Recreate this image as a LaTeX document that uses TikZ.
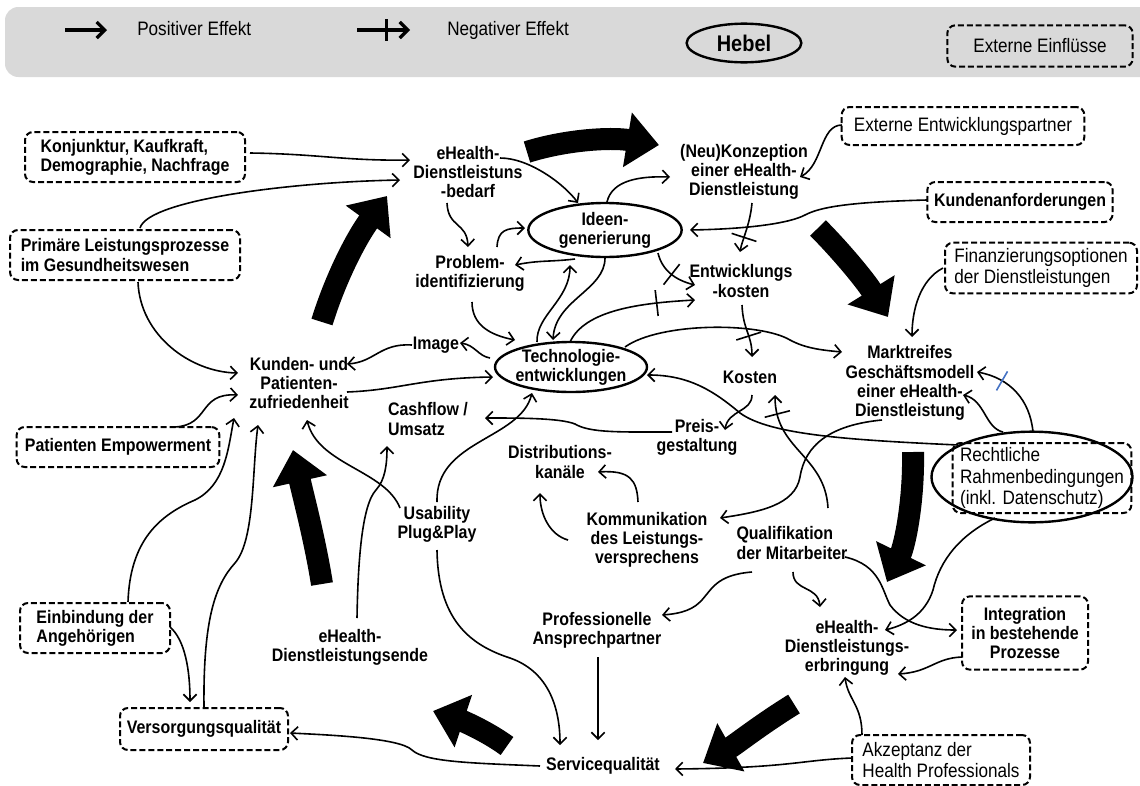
\documentclass[tikz,border=0pt]{standalone}
\usepackage{fontspec}
\setmainfont{Liberation Sans}[FakeStretch=0.88]
\usetikzlibrary{arrows.meta,shapes.geometric,calc,decorations.markings}
\definecolor{legendgray}{HTML}{D9D9D9}
\definecolor{negblue}{HTML}{4472C4}
\newcommand{\lblfont}{\fontsize{13.6}{14.4}\selectfont\bfseries}
\newcommand{\extfont}{\fontsize{14.6}{16}\selectfont}
\newcommand{\legfont}{\fontsize{14.6}{16}\selectfont}
\tikzset{
  lbl/.style={font=\lblfont, align=center, inner sep=1pt},
  extbox/.style={draw, line width=1.5pt, dash pattern=on 4.5pt off 2.2pt, rounded corners=6pt, align=left, inner sep=2pt},
  extb/.style={extbox, font=\lblfont},
  extr/.style={extbox, font=\extfont},
  lever/.style={draw, ellipse, line width=1.8pt, font=\lblfont, align=center, inner xsep=-2pt, inner ysep=-3pt},
  con/.style={line width=1.2pt, -{Straight Barb[length=5pt,width=10pt,line width=1.2pt]}},
  neg/.style={postaction={decorate}, decoration={markings, mark=at position #1 with {\draw[-,line width=1.2pt] (0,-13) -- (0,13);}}},
  negb/.style={postaction={decorate}, decoration={markings, mark=at position #1 with {\draw[-,line width=1.2pt,negblue] (0,-11) -- (0,11);}}},
  big/.style={line width=16.5pt, -{Triangle[length=24pt,width=40pt]}},
}
\begin{document}
\begin{tikzpicture}[x=0.75pt,y=-0.75pt]
\useasboundingbox (0,0) rectangle (1140,786);

% ---------- legend ----------
\fill[legendgray, rounded corners=10pt] (5,7) rectangle (1170,77);
\coordinate (lpa) at (65,30);
\coordinate (lpb) at (107,30);
\coordinate (lna) at (357,30);
\coordinate (lnb) at (410,30);
\draw[line width=2.4pt, -{Straight Barb[length=6pt,width=12pt,line width=2.4pt]}] (lpa) -- (lpb);
\draw[line width=2.4pt, -{Straight Barb[length=6pt,width=12pt,line width=2.4pt]}, postaction={decorate}, decoration={markings, mark=at position 0.55 with {\draw[-,line width=2.4pt] (0,-11) -- (0,11);}}] (lna) -- (lnb);
\node[font=\legfont, anchor=base west, inner sep=0pt] (legpos) at (137,35) {Positiver Effekt};
\node[font=\legfont, anchor=base west, inner sep=0pt] (legneg) at (447,35) {Negativer Effekt};
\node[lever, font=\fontsize{17}{18}\selectfont\bfseries, minimum width=86pt, minimum height=29pt] (hebel) at (744,43) {Hebel};
\node[extr, align=center, minimum width=139pt, minimum height=31pt] (extleg) at (1040,46) {Externe Einflüsse};

% ---------- external influence boxes ----------
\node[extb, minimum width=165pt, minimum height=37.5pt] (konj) at (135,157) {Konjunktur, Kaufkraft,\\Demographie, Nachfrage};
\node[extb, minimum width=172.5pt, minimum height=37.5pt] (prim) at (125,255) {Primäre Leistungsprozesse\\im Gesundheitswesen};
\node[extr, minimum width=182pt, minimum height=28.5pt] (extern) at (963,126) {Externe Entwicklungspartner};
\node[extb, minimum width=139pt, minimum height=30pt] (kanf) at (1020,202) {Kundenanforderungen};
\node[extr, minimum width=144pt, minimum height=38pt] (finanz) at (1041,268) {Finanzierungsoptionen\\der Dienstleistungen};
\node[extr, minimum width=134pt, minimum height=52.5pt] (rechtbox) at (1042,478) {Rechtliche\\Rahmenbedingungen\\(inkl. Datenschutz)};
\node[draw, ellipse, line width=1.8pt, minimum width=150.75pt, minimum height=68pt, inner sep=0pt] (recht) at (1032,477) {};
\node[extb, minimum width=152pt, minimum height=30pt] (empow) at (118,447) {Patienten Empowerment};
\node[extb, minimum width=112.5pt, minimum height=37.5pt] (einb) at (95,628) {Einbindung der\\Angehörigen};
\node[extb, minimum width=126pt, minimum height=31.5pt] (versorg) at (204,729) {Versorgungsqualität};
\node[extb, align=center, minimum width=94.5pt, minimum height=55pt] (integ) at (1025,633) {Integration\\in bestehende\\Prozesse};
\node[extr, minimum width=133.5pt, minimum height=37.5pt] (akzep) at (941,760) {Akzeptanz der\\Health Professionals};

% ---------- levers ----------
\node[lever, minimum width=115pt, minimum height=40.5pt] (ideen) at (605,230) {Ideen-\\generierung};
\node[lever, minimum width=114pt, minimum height=37.5pt] (tech) at (571,367) {Technologie-\\entwicklungen};

% ---------- inner labels ----------
\node[lbl] (bedarf) at (468,172) {eHealth-\\Dienstleistuns\\-bedarf};
\node[lbl] (neu) at (744,172) {(Neu)Konzeption\\einer eHealth-\\Dienstleistung};
\node[lbl] (problem) at (470,273) {Problem-\\identifizierung};
\node[lbl] (ekosten) at (741,281) {Entwicklungs\\-kosten};
\node[lbl] (kosten) at (750,377) {Kosten};
\node[lbl] (image) at (436,345) {Image};
\node[lbl] (kunden) at (299,383) {Kunden- und\\Patienten-\\zufriedenheit};
\node[lbl, align=left] (cash) at (428,419) {Cashflow /\\Umsatz};
\node[lbl] (preis) at (697,437) {Preis-\\gestaltung};
\node[lbl] (distr) at (560,462) {Distributions-\\kanäle};
\node[lbl] (komm) at (647,540) {Kommunikation\\des Leistungs-\\versprechens};
\node[lbl, align=left] (quali) at (792,543) {Qualifikation\\der Mitarbeiter};
\node[lbl] (markt) at (910,383) {Marktreifes\\Geschäftsmodell\\einer eHealth-\\Dienstleistung};
\node[lbl] (usab) at (437,524) {Usability\\Plug\&Play};
\node[lbl] (ende) at (350,647) {eHealth-\\Dienstleistungsende};
\node[lbl] (prof) at (597,630) {Professionelle\\Ansprechpartner};
\node[lbl] (service) at (603,766) {Servicequalität};
\node[lbl] (erbr) at (847,648) {eHealth-\\Dienstleistungs-\\erbringung};

% ---------- big cycle arrows ----------
\draw[big] (322,322) .. controls (335,280) and (355,240) .. (387,196);
\draw[big] (527,152) .. controls (565,140) and (610,137) .. (659,145);
\draw[big] (818,228) .. controls (840,250) and (865,280) .. (888,317);
\draw[big] (913,452) .. controls (914,500) and (905,545) .. (887,582);
\draw[big] (794,704) .. controls (760,725) and (735,745) .. (703,763);
\draw[big] (507,746) .. controls (485,730) and (460,720) .. (433,711);
\draw[big] (322,584) .. controls (315,540) and (303,495) .. (293,450);

% ---------- connectors ----------
\draw[con] ($(konj)+(115,-4)$) .. controls (320,154) and (345,161) .. ($(bedarf)+(-58,-12)$);
\draw[con] ($(prim)+(15,-27)$) .. controls (148,200) and (290,182) .. ($(bedarf)+(-68,8)$);
\draw[con] ($(prim)+(13,27)$) .. controls (140,335) and (190,372) .. ($(kunden)+(-61,-10)$);
\draw[con] ($(empow)+(57,-20)$) .. controls (210,425) and (198,393) .. ($(kunden)+(-61,12)$);
\draw[con] ($(einb)+(33,-26)$) .. controls (130,540) and (160,515) .. (195,500) .. controls (225,485) and (228,450) .. ($(kunden)+(-65,35)$);
\draw[con] ($(versorg)+(0,-21)$) .. controls (203,620) and (215,585) .. (235,563) .. controls (255,540) and (252,470) .. ($(kunden)+(-41,42)$);
\draw[con] ($(einb)+(75,-1)$) .. controls (185,640) and (190,670) .. ($(versorg)+(-14,-27)$);
\draw[con] ($(service)+(-63,0)$) .. controls (470,763) and (425,762) .. (412,750) .. controls (400,738) and (330,735) .. ($(versorg)+(86,4)$);
\draw[con] ($(usab)+(-37,-16)$) .. controls (385,470) and (318,465) .. ($(kunden)+(8,37)$);
\draw[con] ($(ende)+(7,-29)$) .. controls (358,560) and (362,505) .. (376,490) .. controls (385,480) and (387,465) .. ($(cash)+(-41,27)$);
\draw[con] ($(usab)+(0,-22)$) .. controls (435,440) and (520,440) .. ($(tech)+(-39,26)$);
\draw[con] ($(usab)+(0,26)$) .. controls (438,620) and (470,645) .. (510,658) .. controls (550,672) and (560,710) .. ($(service)+(-43,-21)$);
\draw[con] ($(prof)+(1,27)$) -- ($(service)+(-5,-26)$);
\draw[con] ($(quali)+(-40,29)$) .. controls (715,575) and (712,590) .. (700,602) .. controls (690,612) and (675,614) .. ($(prof)+(65,-15)$);
\draw[con] ($(akzep)+(-89,-2)$) .. controls (800,760) and (790,768) .. ($(service)+(72,3)$);
\draw[con] ($(akzep)+(-79,-25)$) .. controls (862,705) and (848,700) .. ($(erbr)+(-2,29)$);
\draw[con] ($(integ)+(-63,24)$) .. controls (935,658) and (930,672) .. ($(erbr)+(51,26)$);
\draw[con] ($(quali)+(53,14)$) .. controls (880,565) and (882,590) .. (890,605) .. controls (905,625) and (930,630) .. ($(integ)+(-68,-3)$);
\draw[con] ($(quali)+(1,29)$) .. controls (793,592) and (818,585) .. ($(erbr)+(-27,-41)$);
\draw[con] ($(recht)+(-37,41)$) .. controls (960,535) and (940,560) .. (933,590) .. controls (925,615) and (905,625) .. ($(erbr)+(38,-18)$);
\draw[con] ($(markt)+(-28,37)$) .. controls (830,425) and (805,445) .. (800,477) .. controls (795,505) and (760,512) .. ($(komm)+(73,-22)$);
\draw[con, neg=0.85] ($(quali)+(36,-35)$) .. controls (825,455) and (775,450) .. ($(kosten)+(25,18)$);
\draw[con] ($(kosten)+(2,18)$) .. controls (752,412) and (728,410) .. ($(preis)+(28,-7)$);
\draw[con] ($(preis)+(-25,-5)$) .. controls (620,432) and (590,433) .. (575,424) .. controls (560,418) and (520,418) .. ($(cash)+(57,-1)$);
\draw[con] ($(komm)+(-9,-38)$) .. controls (637,480) and (630,470) .. ($(distr)+(38,10)$);
\draw[con] ($(komm)+(-79,0)$) .. controls (550,535) and (540,515) .. ($(distr)+(-20,31)$);
\draw[con] ($(recht)+(-74,-32)$) .. controls (850,440) and (770,435) .. (740,413) .. controls (715,392) and (690,375) .. ($(tech)+(76,8)$);
\draw[con, negb=0.7] ($(recht)+(1,-45)$) .. controls (1030,400) and (1010,378) .. ($(markt)+(67,-11)$);
\draw[con] ($(recht)+(-29,-45)$) .. controls (985,428) and (985,400) .. ($(markt)+(53,12)$);
\draw[con] ($(tech)+(54,-20)$) .. controls (660,322) and (760,322) .. (790,340) .. controls (805,348) and (820,350) .. ($(markt)+(-68,-31)$);
\draw[con] ($(finanz)+(-98,0)$) .. controls (920,280) and (912,310) .. ($(markt)+(2,-46)$);
\draw[con, neg=0.6] ($(ekosten)+(1,24)$) .. controls (743,330) and (752,335) .. ($(kosten)+(2,-20)$);
\draw[con] ($(kanf)+(-93,-2)$) .. controls (850,202) and (820,207) .. (805,215) .. controls (790,223) and (750,229) .. ($(ideen)+(85,0)$);
\draw[con] ($(extern)+(-121,-1)$) .. controls (820,125) and (823,165) .. ($(neu)+(56,5)$);
\draw[con] ($(ideen)+(2,-28)$) .. controls (612,180) and (640,176) .. ($(neu)+(-74,5)$);
\draw[con, neg=0.7] ($(neu)+(8,31)$) .. controls (750,225) and (742,240) .. ($(ekosten)+(-1,-29)$);
\draw[con] ($(bedarf)+(32,-14)$) .. controls (530,158) and (565,185) .. ($(ideen)+(-27,-27)$);
\draw[con] ($(bedarf)+(-21,31)$) .. controls (448,228) and (467,222) .. ($(problem)+(-2,-26)$);
\draw[con] ($(problem)+(27,-26)$) .. controls (498,230) and (506,228) .. ($(ideen)+(-80,-2)$);
\draw[con] ($(ideen)+(-30,29)$) .. controls (550,262) and (540,260) .. ($(problem)+(45,-8)$);
\draw[con] ($(problem)+(2,29)$) .. controls (472,325) and (490,335) .. ($(tech)+(-56,-27)$);
\draw[con] ($(tech)+(-34,-25)$) .. controls (536,315) and (570,300) .. ($(ideen)+(-35,35)$);
\draw[con] ($(ideen)+(0,28)$) .. controls (605,290) and (555,300) .. ($(tech)+(-18,-27)$);
\draw[con, neg=0.5] ($(ideen)+(53,23)$) .. controls (662,270) and (675,280) .. ($(ekosten)+(-46,4)$);
\draw[con, neg=0.72] ($(tech)+(-1,-25)$) .. controls (585,310) and (640,303) .. ($(ekosten)+(-46,19)$);
\draw[con] ($(tech)+(-81,-9)$) .. controls (478,356) and (475,345) .. ($(image)+(24,-2)$);
\draw[con] ($(image)+(-24,0)$) .. controls (380,343) and (375,362) .. ($(kunden)+(48,-19)$);
\draw[con] ($(kunden)+(48,9)$) .. controls (400,390) and (420,378) .. ($(tech)+(-78,10)$);
\end{tikzpicture}
\end{document}
